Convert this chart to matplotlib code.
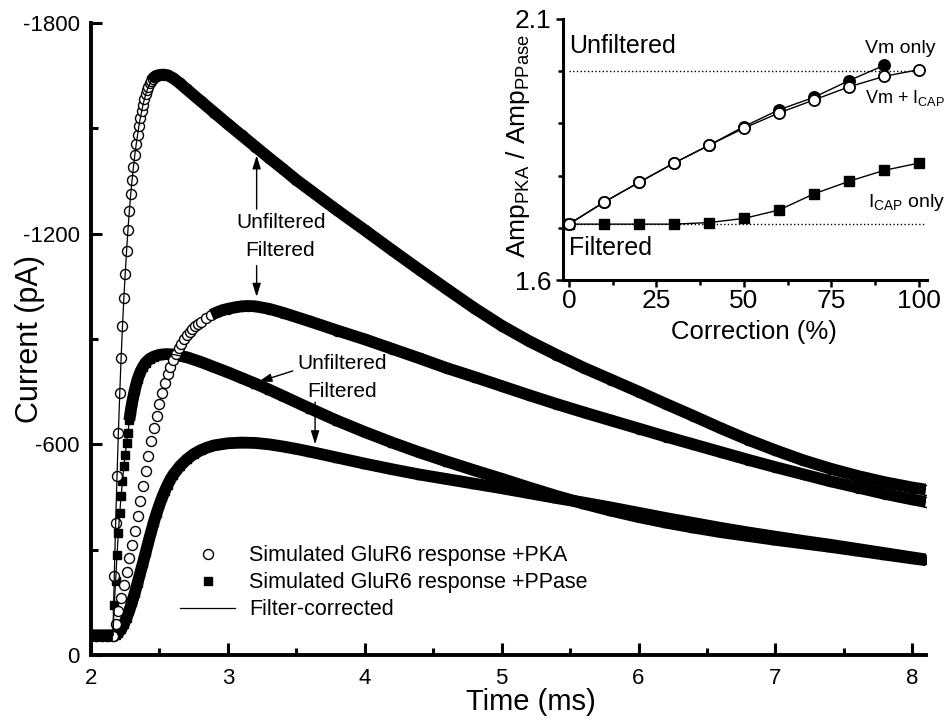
import numpy as np
import matplotlib
matplotlib.use("Agg")
import matplotlib.pyplot as plt
from matplotlib.lines import Line2D

plt.rcParams['font.family'] = ['Liberation Sans', 'DejaVu Sans']
plt.rcParams['mathtext.default'] = 'regular'
plt.rcParams['axes.unicode_minus'] = False

# main panel: simulated currents, (time ms, current pA)
pka_unf = [(2.00, -55), (2.04, -55), (2.08, -55), (2.12, -55), (2.16, -55),
           (2.17, -224), (2.18, -376), (2.19, -509), (2.20, -633), (2.21, -745),
           (2.22, -846), (2.23, -936), (2.24, -1016), (2.25, -1086), (2.26, -1152),
           (2.27, -1211), (2.28, -1264), (2.29, -1312), (2.30, -1352), (2.31, -1390),
           (2.32, -1424), (2.33, -1454), (2.34, -1481), (2.35, -1507), (2.36, -1529),
           (2.37, -1549), (2.38, -1567), (2.39, -1583), (2.40, -1597), (2.41, -1609),
           (2.42, -1619), (2.43, -1628), (2.44, -1635), (2.45, -1641), (2.46, -1645),
           (2.47, -1648), (2.48, -1650), (2.50, -1652), (2.53, -1653), (2.56, -1651),
           (2.60, -1643), (2.65, -1628), (2.70, -1611), (2.80, -1578), (2.90, -1545),
           (3.00, -1512), (3.10, -1480), (3.20, -1448), (3.30, -1416), (3.40, -1385),
           (3.50, -1353), (3.60, -1324), (3.80, -1266), (4.00, -1210), (4.20, -1153),
           (4.40, -1097), (4.60, -1042), (4.80, -988), (5.00, -938), (5.20, -894),
           (5.40, -855), (5.60, -818), (5.80, -784), (6.00, -750), (6.20, -715),
           (6.40, -681), (6.60, -646), (6.80, -613), (7.00, -583), (7.20, -555),
           (7.40, -531), (7.60, -510), (7.80, -492), (8.00, -477), (8.10, -471)]

pka_filt = [(2.00, -55), (2.04, -55), (2.08, -55), (2.12, -55), (2.16, -55),
            (2.18, -88), (2.20, -125), (2.22, -163), (2.24, -200), (2.26, -237),
            (2.28, -275), (2.30, -314), (2.32, -354), (2.34, -395), (2.36, -438),
            (2.38, -482), (2.40, -525), (2.42, -568), (2.44, -609), (2.46, -647),
            (2.48, -682), (2.50, -715), (2.52, -746), (2.54, -774), (2.56, -799),
            (2.58, -821), (2.60, -841), (2.62, -858), (2.64, -873), (2.66, -887),
            (2.68, -899), (2.70, -910), (2.72, -919), (2.74, -928), (2.76, -936),
            (2.78, -943), (2.80, -949), (2.84, -960), (2.88, -969), (2.92, -976),
            (2.96, -982), (3.00, -986), (3.05, -990), (3.10, -993), (3.15, -994),
            (3.20, -993), (3.30, -986), (3.40, -975), (3.60, -950), (3.80, -924),
            (4.00, -899), (4.20, -872), (4.40, -845), (4.60, -817), (4.80, -792),
            (5.00, -766), (5.20, -740), (5.40, -715), (5.60, -691), (5.80, -668),
            (6.00, -645), (6.20, -622), (6.40, -600), (6.60, -578), (6.80, -556),
            (7.00, -535), (7.20, -515), (7.40, -495), (7.60, -477), (7.80, -459),
            (8.00, -443), (8.10, -436)]

ppase_unf = [(2.00, -55), (2.04, -55), (2.08, -55), (2.12, -55), (2.16, -55),
             (2.17, -143), (2.18, -210), (2.19, -286), (2.20, -348), (2.21, -405),
             (2.22, -452), (2.23, -495), (2.24, -538), (2.25, -571), (2.26, -605),
             (2.27, -633), (2.28, -668), (2.29, -695), (2.30, -718), (2.32, -755),
             (2.34, -785), (2.36, -806), (2.38, -821), (2.40, -833), (2.43, -844),
             (2.46, -850), (2.50, -855), (2.55, -857), (2.60, -856), (2.70, -848),
             (2.80, -835), (2.90, -820), (3.00, -805), (3.10, -789), (3.20, -773),
             (3.30, -756), (3.40, -738), (3.60, -702), (3.80, -667), (4.00, -635),
             (4.20, -605), (4.40, -577), (4.60, -551), (4.80, -526), (5.00, -502),
             (5.20, -477), (5.40, -453), (5.60, -431), (5.80, -411), (6.00, -393),
             (6.20, -377), (6.40, -363), (6.60, -350), (6.80, -339), (7.00, -328),
             (7.20, -318), (7.40, -308), (7.60, -297), (7.80, -286), (8.00, -275),
             (8.10, -270)]

ppase_filt = [(2.00, -55), (2.04, -55), (2.08, -55), (2.12, -55), (2.16, -55),
              (2.18, -57), (2.20, -63), (2.22, -73), (2.24, -88), (2.26, -106),
              (2.28, -127), (2.30, -151), (2.32, -177), (2.34, -205), (2.36, -234),
              (2.38, -263), (2.40, -293), (2.42, -323), (2.44, -352), (2.46, -380),
              (2.48, -405), (2.50, -428), (2.52, -449), (2.54, -468), (2.56, -485),
              (2.58, -500), (2.60, -513), (2.65, -538), (2.70, -557), (2.75, -572),
              (2.80, -583), (2.85, -591), (2.90, -597), (3.00, -603), (3.10, -605),
              (3.20, -604), (3.30, -600), (3.40, -594), (3.50, -587), (3.60, -579),
              (3.80, -562), (4.00, -545), (4.20, -529), (4.40, -514), (4.60, -501),
              (4.80, -488), (5.00, -475), (5.20, -461), (5.40, -447), (5.60, -434),
              (5.80, -420), (6.00, -405), (6.20, -390), (6.40, -376), (6.60, -362),
              (6.80, -349), (7.00, -337), (7.20, -325), (7.40, -314), (7.60, -302),
              (7.80, -290), (8.00, -278), (8.10, -272)]

# inset: amplitude ratio vs. correction
correction = [0, 10, 20, 30, 40, 50, 60, 70, 80, 90, 100]
ratio_vm_icap = [1.707, 1.749, 1.787, 1.824, 1.858, 1.891, 1.920, 1.945, 1.970, 1.990, 2.003]
correction_vm = [0, 10, 20, 30, 40, 50, 60, 70, 80, 90]
ratio_vm_only = [1.707, 1.749, 1.787, 1.824, 1.858, 1.894, 1.926, 1.950, 1.982, 2.011]
ratio_icap_only = [1.707, 1.707, 1.707, 1.707, 1.710, 1.718, 1.734, 1.765, 1.789, 1.810, 1.824]
ratio_unfiltered = 2.0
ratio_filtered = 1.708

BAND_LW = 8.5


def draw_trace(ax, data, marker, ms, mfc, band_from):
    t, cur = np.array(data).T
    ax.plot(t, cur, ls='none', marker=marker, ms=ms, mfc=mfc, mec='k', mew=1.0)
    # where markers overlap into a solid band
    band = np.where((t <= 2.16) | (t >= band_from), cur, np.nan)
    ax.plot(t, band, color='k', lw=BAND_LW, solid_capstyle='butt')


fig = plt.figure(figsize=(9.52, 7.22), dpi=100)
ax = fig.add_axes([91 / 952, 1 - 655 / 722, 835 / 952, 632 / 722])

draw_trace(ax, ppase_filt, 's', 6, 'k', 2.0)
draw_trace(ax, ppase_unf, 's', 6, 'k', 2.28)
draw_trace(ax, pka_filt, 'o', 7.2, 'white', 2.86)
draw_trace(ax, pka_unf, 'o', 7.2, 'white', 2.44)

for d in (pka_unf, ppase_unf):
    t, cur = np.array(d).T
    ax.plot(t, cur, color='k', lw=0.9)

ax.set_xlim(2, 8.1)
ax.set_ylim(0, -1800)
ax.set_xticks([2, 3, 4, 5, 6, 7, 8])
ax.set_xticks([2.5, 3.5, 4.5, 5.5, 6.5, 7.5], minor=True)
ax.set_yticks([0, -600, -1200, -1800])
ax.set_yticks([-300, -900, -1500], minor=True)
ax.tick_params(which='both', direction='in', width=2.2, labelsize=16)
ax.tick_params(axis='x', which='major', length=8.5, pad=9)
ax.tick_params(axis='y', which='major', length=8, pad=8)
ax.tick_params(which='minor', length=5)
for s in ('top', 'right'):
    ax.spines[s].set_visible(False)
for s in ('left', 'bottom'):
    ax.spines[s].set_linewidth(2.8)

ax.set_xlabel('Time (ms)', fontsize=21)
ax.xaxis.set_label_coords(0.527, -0.052)
ax.set_ylabel('Current (pA)', fontsize=22)
ax.yaxis.set_label_coords(-0.055, 0.5)

ann = dict(arrowstyle='-|>,head_length=0.8,head_width=0.25', color='k', lw=1,
           shrinkA=0, shrinkB=0)
ax.text(3.39, -1231, 'Unfiltered', fontsize=15, ha='center', va='center')
ax.text(3.38, -1151, 'Filtered', fontsize=15, ha='center', va='center')
ax.annotate('', xy=(3.21, -1423), xytext=(3.21, -1270), arrowprops=ann)
ax.annotate('', xy=(3.21, -1020), xytext=(3.21, -1109), arrowprops=ann)
ax.text(3.838, -829, 'Unfiltered', fontsize=15, ha='center', va='center')
ax.text(3.833, -751, 'Filtered', fontsize=15, ha='center', va='center')
ax.annotate('', xy=(3.223, -778), xytext=(3.474, -809), arrowprops=ann)
ax.annotate('', xy=(3.637, -600), xytext=(3.637, -720), arrowprops=ann)

handles = [Line2D([], [], ls='none', marker='o', ms=7.2, mfc='white', mec='k', mew=1.0),
           Line2D([], [], ls='none', marker='s', ms=6, mfc='k', mec='k'),
           Line2D([], [], color='k', lw=0.9)]
labels = ['Simulated GluR6 response +PKA', 'Simulated GluR6 response +PPase',
          'Filter-corrected']
ax.legend(handles, labels, loc='center left', bbox_to_anchor=(0.1066, 0.114),
          frameon=False, fontsize=15.5, borderpad=0, borderaxespad=0,
          handlelength=2.56, handletextpad=0.65, labelspacing=0.28)

# inset
axi = fig.add_axes([563 / 952, 1 - 280 / 722, 364 / 952, 261 / 722])
axi.plot([0, 101.5], [ratio_unfiltered] * 2, color='k', ls=':', lw=1)
axi.plot([0, 101.5], [ratio_filtered] * 2, color='k', ls=':', lw=1)
axi.plot(correction, ratio_icap_only, color='k', lw=1, marker='s', ms=7.5,
         mfc='k', mec='k')
axi.plot(correction_vm, ratio_vm_only, color='k', lw=1, marker='o', ms=8,
         mfc='k', mec='k', mew=1.3)
axi.plot(correction, ratio_vm_icap, color='k', lw=1, marker='o', ms=8,
         mfc='white', mec='k', mew=1.3)

axi.set_xlim(-1.7, 102.3)
axi.set_ylim(1.6, 2.1)
axi.set_xticks([0, 25, 50, 75, 100])
axi.set_xticks([12.5, 37.5, 62.5, 87.5], minor=True)
axi.set_yticks([1.6, 2.1])
axi.set_yticks([1.7, 1.8, 1.9, 2.0], minor=True)
axi.tick_params(which='both', direction='out', width=1.8, labelsize=19)
axi.tick_params(which='major', length=5)
axi.tick_params(which='minor', length=3.5)
axi.tick_params(axis='x', pad=1.5)
axi.tick_params(axis='y', pad=3.5)
for s in ('top', 'right'):
    axi.spines[s].set_visible(False)
for s in ('left', 'bottom'):
    axi.spines[s].set_linewidth(2.2)
axi.patch.set_alpha(0)

axi.set_xlabel('Correction (%)', fontsize=18.5)
axi.xaxis.set_label_coords(0.525, -0.153)
axi.set_ylabel(r'Amp$_{PKA}$ / Amp$_{PPase}$', fontsize=19)
axi.yaxis.set_label_coords(-0.085, 0.515)

axi.text(0, 2.049, 'Unfiltered', fontsize=18, ha='left', va='center')
axi.text(0, 1.662, 'Filtered', fontsize=18, ha='left', va='center')
axi.text(84.6, 2.044, 'Vm only', fontsize=14, ha='left', va='center')
axi.text(84.6, 1.948, r'Vm + I$_{CAP}$', fontsize=13, ha='left', va='center',
         clip_on=False)
axi.text(85.4, 1.748, r'I$_{CAP}$ only', fontsize=14, ha='left', va='center')

fig.savefig('out.png', dpi=100)
